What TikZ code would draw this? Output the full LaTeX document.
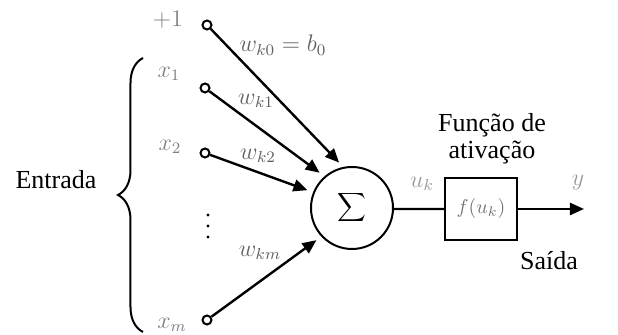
\documentclass[tikz,border=0pt]{standalone}
\usepackage{fontspec}
\setmainfont{Liberation Serif}
\usetikzlibrary{arrows.meta,decorations.pathreplacing}

\begin{document}
\begin{tikzpicture}[
    x=0.5pt, y=-0.5pt,
    >={Triangle[length=7pt,width=6pt]},
    input/.style={
        circle,
        draw,
        line width=1pt,
        minimum size=4.5pt,
        inner sep=0pt
    },
    neuron/.style={
        circle,
        draw,
        line width=1pt,
        minimum size=41pt,
        inner sep=0pt,
        font=\fontsize{11}{11}\selectfont
    },
    actbox/.style={
        rectangle,
        draw,
        line width=0.8pt,
        minimum width=36pt,
        minimum height=31pt,
        inner sep=0pt,
        font=\fontsize{10}{10}\selectfont,
        text=black!55
    },
    varlabel/.style={text=black!50, font=\fontsize{12}{12}\selectfont},
    wlabel/.style={text=black!62, font=\fontsize{12}{12}\selectfont},
    caption/.style={font=\fontsize{13}{13.5}\selectfont, align=center},
    link/.style={->, line width=1.2pt, shorten >=3pt}
]
\useasboundingbox (0,0) rectangle (618,335);

% Inputs
\node[input] (in0) at (207,25)  {};
\node[input] (in1) at (205,88)  {};
\node[input] (in2) at (205,153) {};
\node[input] (inm) at (207,320) {};
\foreach \y in {215,226,237}
    \fill (208,\y) circle (0.8pt);

\node[varlabel] (lbl0) at (168,20)  {$+1$};
\node[varlabel] (lbl1) at (169,74)  {$x_1$};
\node[varlabel] (lbl2) at (170,147) {$x_2$};
\node[varlabel] (lblm) at (172,325) {$x_m$};

% Summing junction
\node[neuron] (sum) at (352,208) {$\displaystyle\sum$};

% Weighted links
\draw[link] (in0) -- (sum.102);
\draw[link] (in1) -- (sum.131);
\draw[link] (in2) -- (sum.158);
\draw[link] (inm) -- (sum.223);

\node[wlabel] (w0) at (283,45)  {$w_{k0} = b_0$};
\node[wlabel] (w1) at (256,101) {$w_{k1}$};
\node[wlabel] (w2) at (258,156) {$w_{k2}$};
\node[wlabel] (wm) at (260,253) {$w_{km}$};

% Activation
\node[actbox] (act) at (481,209) {$f(u_k)$};
\coordinate (out) at (584,209);
\draw[line width=1.2pt] (sum) -- (sum.east |- act.west) -- (act.west);
\draw[->, line width=1.2pt] (act.east) -- (out);

\node[varlabel, text=black!40] (uk) at (422,184) {$u_k$};
\node[varlabel, text=black!40] (yout) at (578,183) {$y$};
\node[caption] (actlbl) at (492,139) {Função de\\ativação};
\node[caption] (saida) at (549,261) {Saída};

% Input brace
\coordinate (braceTop) at (143,58);
\coordinate (braceBot) at (143,332);
\draw[line width=1pt, decorate, decoration={brace, amplitude=12.5pt}] (braceBot) -- (braceTop);
\node[caption] (entrada) at (56,180) {Entrada};

\end{tikzpicture}
\end{document}
